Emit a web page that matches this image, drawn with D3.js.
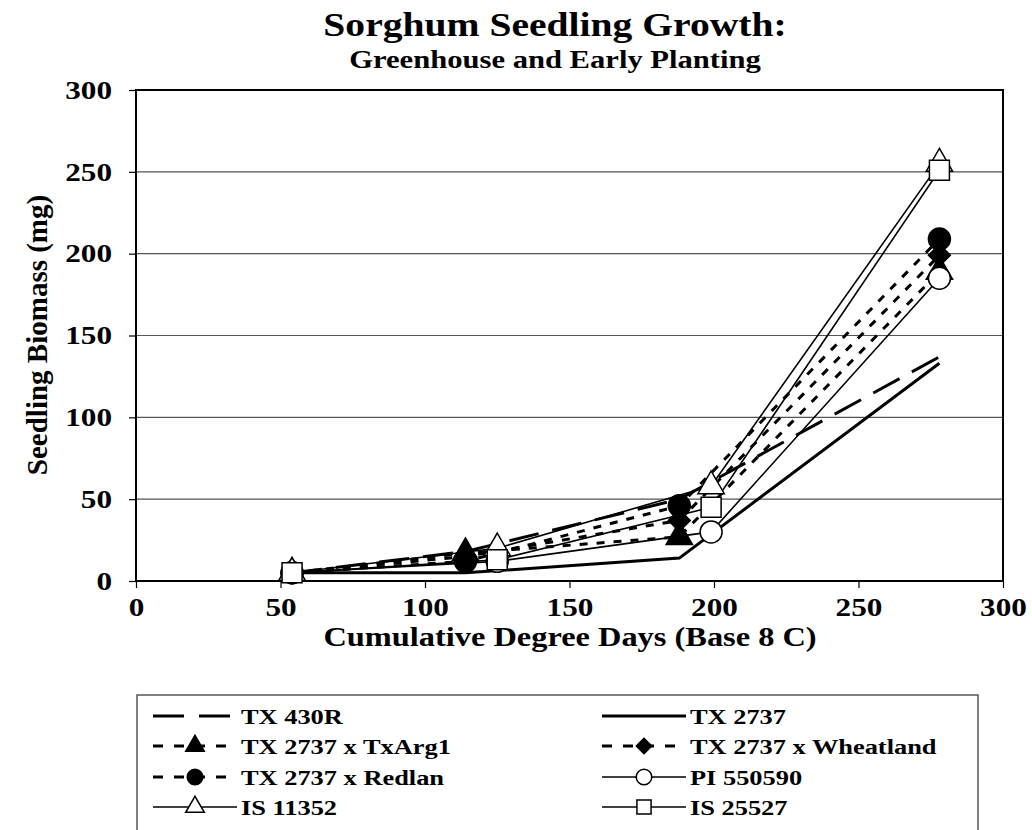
<!DOCTYPE html>
<html>
<head>
<meta charset="utf-8">
<script src="https://cdn.jsdelivr.net/npm/d3@7"></script>
<style>
  body { margin: 0; background: #fff; }
  text { font-family: "Liberation Serif", "Times New Roman", serif; font-weight: bold; fill: #000; }
</style>
</head>
<body>
<div id="chart"></div>
<script>
//Tick values
var xTicks = [0, 50, 100, 150, 200, 250, 300];
var yTicks = [0, 50, 100, 150, 200, 250, 300];

//Sampling dates (degree days)
var daysEarly = [54, 114, 188, 278];
var daysLate = [54, 125, 199, 278];

//Biomass (mg) per line
var seriesNames = ["TX 430R", "TX 2737", "TX 2737 x TxArg1", "TX 2737 x Wheatland",
                   "TX 2737 x Redlan", "PI 550590", "IS 11352", "IS 25527"];
var tx430r = [5, 18, 50, 137];
var tx2737 = [5, 5, 14, 133];
var txArg1 = [5, 17, 27, 189];
var wheatland = [5, 15, 37, 199];
var redlan = [5, 12, 46, 209];
var pi550590 = [5, 12, 30, 185];
var is11352 = [5, 20, 58, 255];
var is25527 = [5, 13, 45, 251];

var w = 1032, h = 830;
var margin = {top: 90, left: 136, right: 29, bottom: 249};
var pw = w - margin.left - margin.right;
var ph = h - margin.top - margin.bottom;
var sx = 1.2;   // the original picture is stretched sideways

//line / marker styles
var styles = [
  {x: daysEarly, y: tx430r, width: 3, dash: "30,14", legDash: "31,15", shape: null},
  {x: daysEarly, y: tx2737, width: 3, dash: null, shape: null},
  {x: daysEarly, y: txArg1, width: 3, dash: "8,9", legDash: "10,11", shape: d3.symbolTriangle, size: 300, fill: "#000"},
  {x: daysEarly, y: wheatland, width: 3, dash: "8,9", legDash: "10,11", shape: d3.symbolSquare, size: 240, rot: 45, fill: "#000"},
  {x: daysEarly, y: redlan, width: 3, dash: "8,9", legDash: "10,11", shape: d3.symbolCircle, size: 380, fill: "#000"},
  {x: daysLate, y: pi550590, width: 1.6, dash: null, shape: d3.symbolCircle, size: 380, fill: "#fff"},
  {x: daysLate, y: is11352, width: 1.6, dash: null, shape: d3.symbolTriangle, size: 300, fill: "#fff"},
  {x: daysLate, y: is25527, width: 1.6, dash: null, shape: d3.symbolSquare, size: 400, fill: "#fff"}
];

var xScale = d3.scaleLinear().domain([0, 300]).range([0, pw]);
var yScale = d3.scaleLinear().domain([0, 300]).range([ph, 0]);

var svg = d3.select("#chart").append("svg")
  .attr("width", w).attr("height", h);

var g = svg.append("g")
  .attr("transform", "translate(" + margin.left + "," + margin.top + ")");

//gridlines
g.selectAll(".grid").data(yTicks.slice(1, -1)).enter().append("line")
  .attr("x1", 0).attr("x2", pw)
  .attr("y1", function(d) { return yScale(d); })
  .attr("y2", function(d) { return yScale(d); })
  .attr("stroke", "#555").attr("stroke-width", 1.2);

//frame
g.append("rect").attr("width", pw).attr("height", ph)
  .attr("fill", "none").attr("stroke", "#000").attr("stroke-width", 2);

//axes
var yAxis = d3.axisLeft(yScale).tickValues(yTicks).tickSize(7);
var xAxis = d3.axisBottom(xScale).tickValues(xTicks).tickSize(7).tickPadding(10);
var ya = g.append("g").call(yAxis);
var xa = g.append("g").attr("transform", "translate(0," + ph + ")").call(xAxis);
[ya, xa].forEach(function(a) {
  a.select(".domain").remove();
  a.selectAll("line").attr("stroke", "#000").attr("stroke-width", 1.2);
  a.selectAll("text").style("font-size", "26px")
    .style("font-family", "'Liberation Serif', serif").style("font-weight", "bold");
});
ya.selectAll("text").attr("x", 0).attr("transform", "translate(-24,0) scale(" + sx + ",1)");
xa.selectAll("text").attr("transform", "scale(" + sx + ",1)");

//lines
var line = d3.line()
  .x(function(d) { return xScale(d[0]); })
  .y(function(d) { return yScale(d[1]); });

styles.forEach(function(s) {
  var pts = s.x.map(function(x, i) { return [x, s.y[i]]; });
  g.append("path").datum(pts)
    .attr("d", line)
    .attr("fill", "none")
    .attr("stroke", "#000")
    .attr("stroke-width", s.width)
    .attr("stroke-dasharray", s.dash);
});
styles.forEach(function(s) {
  if (!s.shape) return;
  var pts = s.x.map(function(x, i) { return [x, s.y[i]]; });
  g.selectAll(null).data(pts).enter().append("path")
    .attr("d", d3.symbol().type(s.shape).size(s.size))
    .attr("transform", function(d) {
      return "translate(" + xScale(d[0]) + "," + yScale(d[1]) + ") rotate(" + (s.rot || 0) + ")";
    })
    .attr("fill", s.fill)
    .attr("stroke", "#000")
    .attr("stroke-width", 1.5);
});

//stretched text helper
function label(x, y, size, str, anchor) {
  return svg.append("text")
    .attr("transform", "translate(" + x + "," + y + ") scale(" + sx + ",1)")
    .attr("text-anchor", anchor || "middle")
    .style("font-size", size + "px").text(str);
}

//titles
label(555, 36, 33, "Sorghum Seedling Growth:");
label(555, 68, 25.5, "Greenhouse and Early Planting");
label(570, 646, 27, "Cumulative Degree Days (Base 8 C)");
svg.append("text").attr("transform", "translate(47,335) rotate(-90)")
  .attr("text-anchor", "middle").style("font-size", "29px").text("Seedling Biomass (mg)");

// add legend
var legend = svg.append("g");
legend.append("rect").attr("x", 137).attr("y", 695).attr("width", 841).attr("height", 160)
  .attr("fill", "#fff").attr("stroke", "#555").attr("stroke-width", 1.5);

var rowY = [716, 746, 777, 807];
var colX = [153, 602];
seriesNames.forEach(function(name, i) {
  var s = styles[i];
  var x0 = colX[i % 2], y0 = rowY[Math.floor(i / 2)];
  var len = 84;
  legend.append("line")
    .attr("x1", x0).attr("x2", x0 + len).attr("y1", y0).attr("y2", y0)
    .attr("stroke", "#000").attr("stroke-width", s.width)
    .attr("stroke-dasharray", s.legDash || null);
  if (s.shape) {
    legend.append("path")
      .attr("d", d3.symbol().type(s.shape).size(s.size * 0.5))
      .attr("transform", "translate(" + (x0 + len / 2) + "," + y0 + ") rotate(" + (s.rot || 0) + ")")
      .attr("fill", s.fill).attr("stroke", "#000").attr("stroke-width", 1.5);
  }
  label(x0 + len + 4, y0 + 8, 22, name, "start");
});
</script>
</body>
</html>
